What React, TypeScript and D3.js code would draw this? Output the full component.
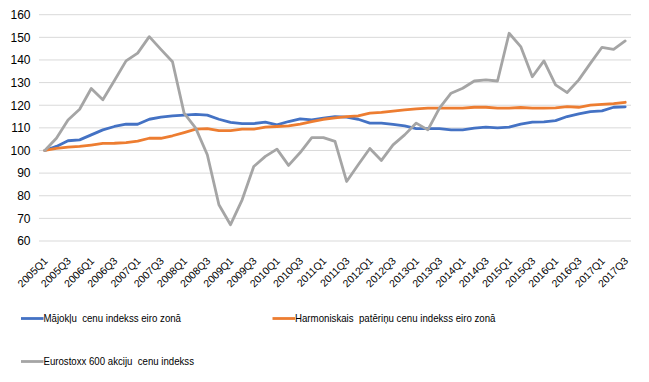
import React from "react";
import * as d3 from "d3";

const years = d3.range(2005, 2018);
const quarters: string[] = [];
years.forEach((y) => {
  [1, 2, 3, 4].forEach((q) => {
    if (y === 2017 && q > 3) return;
    quarters.push(`${y}Q${q}`);
  });
});

const housing = [
  100, 101.8, 104.3, 104.7, 106.9, 109.1, 110.6, 111.6, 111.6, 113.8,
  114.7, 115.3, 115.6, 116, 115.6, 113.8, 112.4, 111.9, 111.9, 112.5,
  111.3, 112.8, 114, 113.5, 114.3, 115, 114.7, 113.8, 112.1, 112.1,
  111.5, 110.9, 109.7, 109.7, 109.7, 109.1, 109.1, 109.9, 110.3, 110,
  110.3, 111.6, 112.5, 112.6, 113.2, 115, 116.2, 117.2, 117.5, 119.1, 119.3,
];
const hicp = [
  100, 100.9, 101.5, 101.8, 102.4, 103.1, 103.2, 103.5, 104.1, 105.4,
  105.4, 106.5, 107.9, 109.4, 109.7, 108.8, 108.8, 109.4, 109.4, 110.3,
  110.6, 110.9, 111.6, 112.8, 113.8, 114.4, 115, 115.3, 116.5, 116.8,
  117.4, 117.9, 118.4, 118.7, 118.7, 118.7, 118.7, 119.1, 119.1, 118.7,
  118.7, 119, 118.7, 118.7, 118.8, 119.4, 119.1, 120, 120.4, 120.7, 121.3,
];
const stoxx = [
  100, 105.4, 113.5, 118.2, 127.4, 122.4, 130.9, 139.6, 143, 150.3,
  144.7, 139.2, 116.5, 109.9, 98.1, 76, 67.2, 78.2, 92.9, 97.4,
  100.6, 93.4, 99.1, 105.7, 105.7, 104, 86.3, 93.7, 100.9, 95.6,
  102.5, 106.9, 112.1, 109.1, 118.7, 125.3, 127.5, 130.7, 131.2, 130.7,
  151.8, 145.9, 132.6, 139.6, 129, 125.6, 131.2, 138.5, 145.6, 144.7, 148.4,
];
const yTicks = [60, 70, 80, 90, 100, 110, 120, 130, 140, 150, 160];

const seriesNames = [
  "Mājokļu  cenu indekss eiro zonā",
  "Harmoniskais  patēriņu cenu indekss eiro zonā",
  "Eurostoxx 600 akciju  cenu indekss",
];
const colors = ["#4472C4", "#ED7D31", "#A5A5A5"];

const W = 649;
const H = 382;
const left = 39;
const right = 631;
const top = 14.7;
const bottom = 241;

export default function App() {
  const x = d3.scaleBand<string>().domain(quarters).range([left, right]);
  const y = d3.scaleLinear().domain([60, 160]).range([bottom, top]);
  const cx = (i: number) => (x(quarters[i]) as number) + x.bandwidth() / 2;
  const line = d3
    .line<number>()
    .x((_, i) => cx(i))
    .y((d) => y(d));
  const data = [housing, hicp, stoxx];
  const font = "'Liberation Sans', Arial, sans-serif";

  const legend = [
    { lx: 21, ly: 318.5, tx: 43.5, tw: 137.5 },
    { lx: 272.5, ly: 318.5, tx: 295, tw: 200.5 },
    { lx: 21, ly: 361.5, tx: 43.5, tw: 150.5 },
  ];

  return (
    <svg
      width={W}
      height={H}
      style={{ position: "absolute", left: 0, top: 0, background: "#fff" }}
      fontFamily={font}
    >
      <rect width={W} height={H} fill="#fff" />
      {yTicks.map((t) => (
        <g key={t}>
          <line x1={left} x2={right} y1={y(t)} y2={y(t)} stroke="#d9d9d9" strokeWidth={1} />
          <text x={30.5} y={y(t)} dy="0.36em" textAnchor="end" fontSize={12} fill="#000">
            {t}
          </text>
        </g>
      ))}
      {quarters.map((q, i) =>
        i % 2 === 0 ? (
          <text
            key={q}
            transform={`translate(${cx(i) + 3.7},${261.5}) rotate(-45)`}
            textAnchor="end"
            fontSize={10.5}
            fill="#000"
          >
            {q}
          </text>
        ) : null
      )}
      {data.map((d, k) => (
        <path
          key={k}
          d={line(d) as string}
          fill="none"
          stroke={colors[k]}
          strokeWidth={2.8}
          strokeLinejoin="round"
          strokeLinecap="round"
        />
      ))}
      {legend.map((l, k) => (
        <g key={k}>
          <line x1={l.lx} x2={l.tx} y1={l.ly} y2={l.ly} stroke={colors[k]} strokeWidth={2.8} />
          <text
            x={l.tx}
            y={l.ly}
            dy="0.36em"
            fontSize={11}
            fill="#000"
            textLength={l.tw}
            lengthAdjust="spacingAndGlyphs"
            style={{ whiteSpace: "pre" }}
          >
            {seriesNames[k]}
          </text>
        </g>
      ))}
    </svg>
  );
}
